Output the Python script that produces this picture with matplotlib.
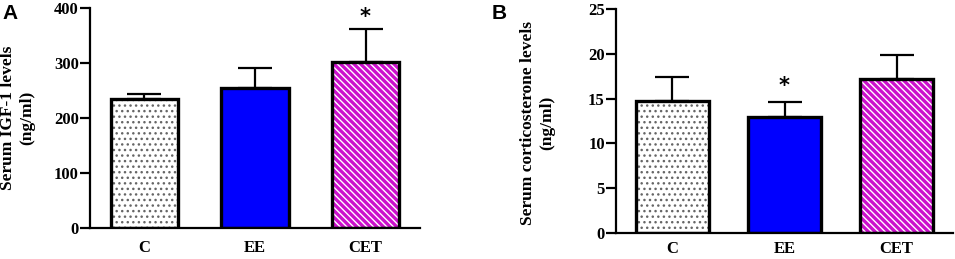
import matplotlib
matplotlib.use("Agg")
import matplotlib.pyplot as plt

categories = ["C", "EE", "CET"]
igf_mean = [234, 254, 302]
igf_sd = [9, 37, 60]
cort_mean = [14.7, 12.95, 17.2]
cort_sd = [2.75, 1.7, 2.65]
igf_sig = [False, False, True]
cort_sig = [False, True, False]

faces = ["white", "#0000FF", "#CC10CC"]
hatches = ["...", None, "\\\\\\\\\\"]
hatch_cols = ["#666666", None, "white"]

plt.rcParams['font.family'] = ['Liberation Serif', 'DejaVu Serif']
plt.rcParams['font.weight'] = 'bold'
plt.rcParams['hatch.linewidth'] = 1.0

fig = plt.figure(figsize=(9.55, 2.59), dpi=100)
axA = fig.add_axes([0.0942, 0.1197, 0.3456, 0.8493])
axB = fig.add_axes([0.645, 0.1004, 0.353, 0.8646])

def draw(ax, means, sds, sig, ymax, step, label, star_off, w, xpad, xl):
    x = list(range(len(categories)))
    for i in x:
        ax.bar(i, means[i], width=w, color=faces[i], edgecolor=hatch_cols[i] if hatches[i] else faces[i],
               hatch=hatches[i], linewidth=0, zorder=2)
        ax.bar(i, means[i], width=w, color="none", edgecolor="black", linewidth=2.4, zorder=3)
        ax.errorbar(i, means[i], yerr=[[0], [sds[i]]], fmt="none", ecolor="black",
                    elinewidth=1.6, capsize=12, capthick=1.6, zorder=1)
        if sig[i]:
            ax.text(i, means[i] + sds[i] + star_off, "*", ha="center", va="bottom",
                    fontsize=15, fontweight="bold", family=["DejaVu Sans"])
    ax.set_xlim(-xl, 2 + xl)
    ax.set_ylim(0, ymax)
    ax.set_yticks([step * k for k in range(int(ymax / step) + 1)])
    ax.set_xticks(x)
    ax.set_xticklabels(categories)
    for s in ["top", "right"]:
        ax.spines[s].set_visible(False)
    for s in ["left", "bottom"]:
        ax.spines[s].set_linewidth(1.6)
    ax.tick_params(axis="y", width=1.6, length=7, labelsize=12, pad=1)
    ax.tick_params(axis="x", length=0, labelsize=12, pad=xpad)
    ax.set_ylabel(label, fontsize=12.5, fontweight="bold", linespacing=1.25)

draw(axA, igf_mean, igf_sd, igf_sig, 400, 100, "Serum IGF-1 levels\n(ng/ml)", 3, 0.61, 9, 0.493)
draw(axB, cort_mean, cort_sd, cort_sig, 25, 5, "Serum corticosterone levels\n(ng/ml)", 0.7, 0.65, 6, 0.504)
axA.yaxis.set_label_coords(-0.167, 0.5)
axB.yaxis.set_label_coords(-0.181, 0.49)

fig.text(0.003, 0.985, "A", fontsize=15, fontweight="bold", family=["Liberation Sans"], va="top")
fig.text(0.515, 0.985, "B", fontsize=15, fontweight="bold", family=["Liberation Sans"], va="top")

fig.savefig("out.png", dpi=100)
